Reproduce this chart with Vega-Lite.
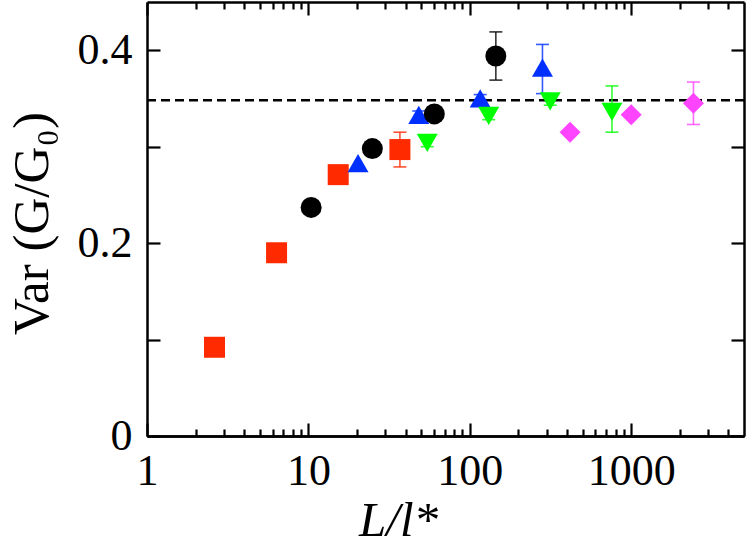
{
  "$schema": "https://vega.github.io/schema/vega-lite/v6.json",
  "width": 597,
  "height": 434,
  "autosize": {"type": "none"},
  "padding": {"left": 147, "top": 2, "right": 3, "bottom": 118},
  "background": "white",
  "config": {
    "view": {"stroke": null},
    "axis": {
      "grid": false,
      "domainColor": "black",
      "domainWidth": 2.5,
      "tickColor": "black",
      "tickWidth": 2.2,
      "labelFont": "Liberation Serif",
      "labelFontSize": 44,
      "labelColor": "black",
      "titleFont": "Liberation Serif",
      "titleFontSize": 44,
      "titleFontWeight": "normal",
      "titleColor": "black",
      "labelOverlap": false,
      "labelBound": false,
      "labelFlush": false
    }
  },
  "datasets": {
    "pts": [
      {"s": "A", "x": 2.62, "y": 0.092},
      {"s": "A", "x": 6.35, "y": 0.190},
      {"s": "A", "x": 15.3, "y": 0.271},
      {"s": "A", "x": 36.9, "y": 0.297},
      {"s": "C", "x": 20.3, "y": 0.283},
      {"s": "C", "x": 48.3, "y": 0.333},
      {"s": "C", "x": 116, "y": 0.350},
      {"s": "C", "x": 282, "y": 0.382},
      {"s": "D", "x": 54.5, "y": 0.304},
      {"s": "D", "x": 131, "y": 0.332},
      {"s": "D", "x": 315, "y": 0.347},
      {"s": "D", "x": 760, "y": 0.336},
      {"s": "E", "x": 418, "y": 0.315},
      {"s": "E", "x": 1000, "y": 0.333},
      {"s": "E", "x": 2430, "y": 0.345},
      {"s": "B", "x": 10.4, "y": 0.237},
      {"s": "B", "x": 24.9, "y": 0.298},
      {"s": "B", "x": 60.3, "y": 0.334},
      {"s": "B", "x": 145, "y": 0.394}
    ],
    "err": [
      {"s": "A", "x": 36.9, "lo": 0.279, "hi": 0.315},
      {"s": "B", "x": 145, "lo": 0.369, "hi": 0.419},
      {"s": "C", "x": 48.3, "lo": 0.329, "hi": 0.337},
      {"s": "C", "x": 116, "lo": 0.346, "hi": 0.354},
      {"s": "C", "x": 282, "lo": 0.355, "hi": 0.406},
      {"s": "D", "x": 54.5, "lo": 0.300, "hi": 0.308},
      {"s": "D", "x": 131, "lo": 0.328, "hi": 0.336},
      {"s": "D", "x": 315, "lo": 0.343, "hi": 0.351},
      {"s": "D", "x": 760, "lo": 0.315, "hi": 0.363},
      {"s": "E", "x": 2430, "lo": 0.323, "hi": 0.367}
    ],
    "ref": [{"y": 0.348}]
  },
  "layer": [
    {
      "data": {"name": "ref"},
      "mark": {"type": "rule", "strokeDash": [9, 5], "strokeWidth": 2.5, "color": "black"},
      "encoding": {
        "x": {
          "datum": 1,
          "type": "quantitative",
          "scale": {"type": "log", "domain": [1, 5000], "nice": false},
          "axis": {
            "orient": "top",
            "title": null,
            "labels": false,
            "values": [1,2,3,4,5,6,7,8,9,10,20,30,40,50,60,70,80,90,100,200,300,400,500,600,700,800,900,1000,2000,3000,4000],
            "tickSize": {"condition": {"test": "indexof([1,10,100,1000], datum.value) >= 0", "value": -13}, "value": -7}
          }
        },
        "x2": {"datum": 5000},
        "y": {
          "field": "y",
          "type": "quantitative",
          "scale": {"domain": [0, 0.45], "nice": false},
          "axis": {
            "orient": "right",
            "title": null,
            "labels": false,
            "values": [0, 0.1, 0.2, 0.3, 0.4],
            "tickSize": -13
          }
        }
      }
    },
    {
      "data": {"name": "err"},
      "mark": {"type": "rule", "strokeWidth": 1.6, "opacity": 0.8},
      "encoding": {
        "x": {
          "field": "x",
          "type": "quantitative",
          "scale": {"type": "log", "domain": [1, 5000], "nice": false},
          "axis": {
            "orient": "bottom",
            "title": null,
            "labels": false,
            "values": [2,3,4,5,6,7,8,9,20,30,40,50,60,70,80,90,200,300,400,500,600,700,800,900,2000,3000,4000],
            "tickSize": -7
          }
        },
        "y": {"field": "lo", "type": "quantitative", "scale": {"domain": [0, 0.45], "nice": false}, "axis": null},
        "y2": {"field": "hi"},
        "color": {"field": "s", "type": "nominal", "legend": null}
      }
    },
    {
      "data": {"name": "err"},
      "mark": {"type": "errorbar", "rule": false, "ticks": {"size": 13}, "thickness": 1.6, "opacity": 0.8},
      "encoding": {
        "x": {"field": "x", "type": "quantitative", "scale": {"type": "log", "domain": [1, 5000], "nice": false}, "axis": null},
        "y": {"field": "lo", "type": "quantitative", "scale": {"domain": [0, 0.45], "nice": false}, "axis": null},
        "y2": {"field": "hi"},
        "color": {"field": "s", "type": "nominal", "legend": null}
      }
    },
    {
      "data": {"name": "pts"},
      "mark": {"type": "point", "filled": true, "opacity": 1, "size": 441},
      "encoding": {
        "x": {
          "field": "x",
          "type": "quantitative",
          "scale": {"type": "log", "domain": [1, 5000], "nice": false},
          "axis": {
            "orient": "bottom",
            "title": "L/l*",
            "titleFontStyle": "italic",
            "titleFontSize": 49,
            "titleX": 251,
            "titleY": 99,
            "titleAlign": "center",
            "titleBaseline": "alphabetic",
            "values": [1, 10, 100, 1000],
            "labelExpr": "format(datum.value, 'd')",
            "labelPadding": 26,
            "tickSize": -13
          }
        },
        "y": {
          "field": "y",
          "type": "quantitative",
          "scale": {"domain": [0, 0.45], "nice": false},
          "axis": {
            "orient": "left",
            "title": "Var (G/G₀)",
            "titleFontSize": 51,
            "titleX": -100,
            "titleY": 221,
            "titleAngle": -90,
            "titleAlign": "center",
            "titleBaseline": "alphabetic",
            "values": [0, 0.1, 0.2, 0.3, 0.4],
            "labelExpr": "datum.value === 0 ? '0' : ((datum.value === 0.2 || datum.value === 0.4) ? format(datum.value, '.1f') : '')",
            "labelPadding": 28,
            "tickSize": -13
          }
        },
        "color": {
          "field": "s",
          "type": "nominal",
          "scale": {"domain": ["A", "B", "C", "D", "E"], "range": ["#ff2a00", "#000000", "#0030ff", "#00ff00", "#ff44ff"]},
          "legend": null
        },
        "shape": {
          "field": "s",
          "type": "nominal",
          "scale": {"domain": ["A", "B", "C", "D", "E"], "range": ["square", "circle", "triangle-up", "triangle-down", "diamond"]},
          "legend": null
        }
      }
    }
  ],
  "resolve": {"axis": {"x": "independent", "y": "independent"}}
}
